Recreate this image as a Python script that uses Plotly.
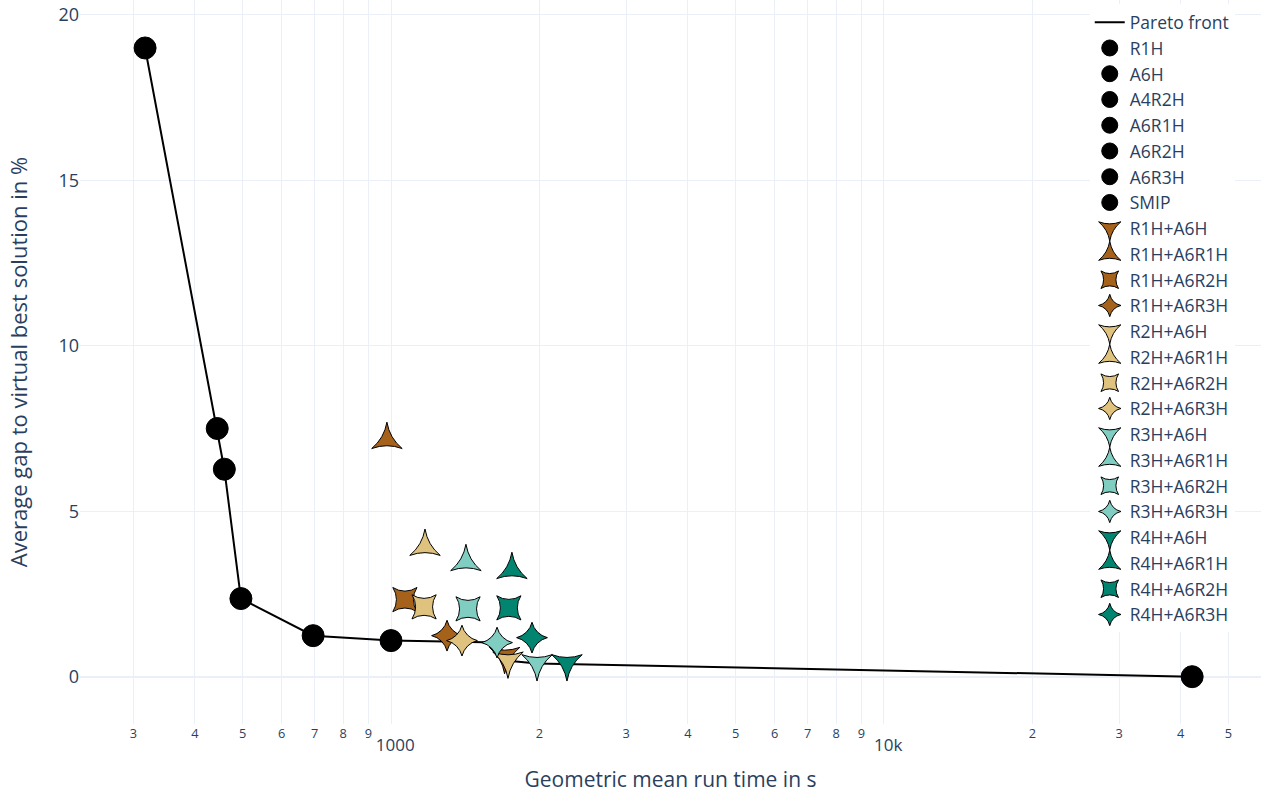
import plotly.graph_objects as go

# Single heuristics (black circles)
single_names = ["R1H", "A6H", "A4R2H", "A6R1H", "A6R2H", "A6R3H", "SMIP"]
single_time = [317, 444, 459, 496, 695, 1000, 42200]
single_gap = [19.0, 7.5, 6.27, 2.36, 1.24, 1.09, 0.0]

# Combined heuristics
combo_groups = ["R1H", "R2H", "R3H", "R4H"]
combo_suffix = ["A6H", "A6R1H", "A6R2H", "A6R3H"]
combo_time = {
    "R1H": [1700, 981, 1067, 1299],
    "R2H": [1727, 1172, 1167, 1393],
    "R3H": [1978, 1419, 1433, 1641],
    "R4H": [2275, 1759, 1734, 1932],
}
combo_gap = {
    "R1H": [0.62, 7.16, 2.33, 1.24],
    "R2H": [0.48, 3.93, 2.11, 1.09],
    "R3H": [0.40, 3.47, 2.05, 1.03],
    "R4H": [0.40, 3.23, 2.08, 1.18],
}

# Pareto front
pareto_time = [317, 444, 459, 496, 695, 1000, 1641, 1727, 1978, 42200]
pareto_gap = [19.0, 7.5, 6.27, 2.36, 1.24, 1.09, 1.03, 0.48, 0.40, 0.0]

group_colors = ["#a6611a", "#dfc27d", "#80cdc1", "#018571"]
suffix_symbols = ["star-triangle-down", "star-triangle-up", "star-square", "star-diamond"]

fig = go.Figure()
fig.add_trace(go.Scatter(x=pareto_time, y=pareto_gap, mode="lines", name="Pareto front",
                         line=dict(color="black", width=2)))
for n, t, g in zip(single_names, single_time, single_gap):
    fig.add_trace(go.Scatter(x=[t], y=[g], mode="markers", name=n,
                             marker=dict(symbol="circle", size=22, color="black",
                                         line=dict(color="black", width=1))))
for grp, col in zip(combo_groups, group_colors):
    for i, (suf, sym) in enumerate(zip(combo_suffix, suffix_symbols)):
        fig.add_trace(go.Scatter(x=[combo_time[grp][i]], y=[combo_gap[grp][i]], mode="markers",
                                 name=f"{grp}+{suf}",
                                 marker=dict(symbol=sym, size=22, color=col,
                                             line=dict(color="black", width=1))))

fig.update_layout(
    template="plotly_white",
    width=1261, height=793,
    margin=dict(l=80, r=0, t=0, b=69),
    font=dict(family="Open Sans", size=16),
    legend=dict(x=0.855, xanchor="left", y=0.994, yanchor="top", font=dict(size=17.5)),
    xaxis=dict(type="log", range=[2.369, 4.765], dtick="D1", automargin=False,
               tickfont=dict(size=17),
               title=dict(text="Geometric mean run time in s", font=dict(size=21), standoff=18)),
    yaxis=dict(range=[-1.43, 20.45], dtick=5, automargin=False,
               tickfont=dict(size=18),
               title=dict(text="Average gap to virtual best solution in %", font=dict(size=22),
                          standoff=24)),
)
fig.write_html("out.html", config={"displayModeBar": False},
               post_script="document.body.style.margin='0';document.body.style.overflow='hidden';")
